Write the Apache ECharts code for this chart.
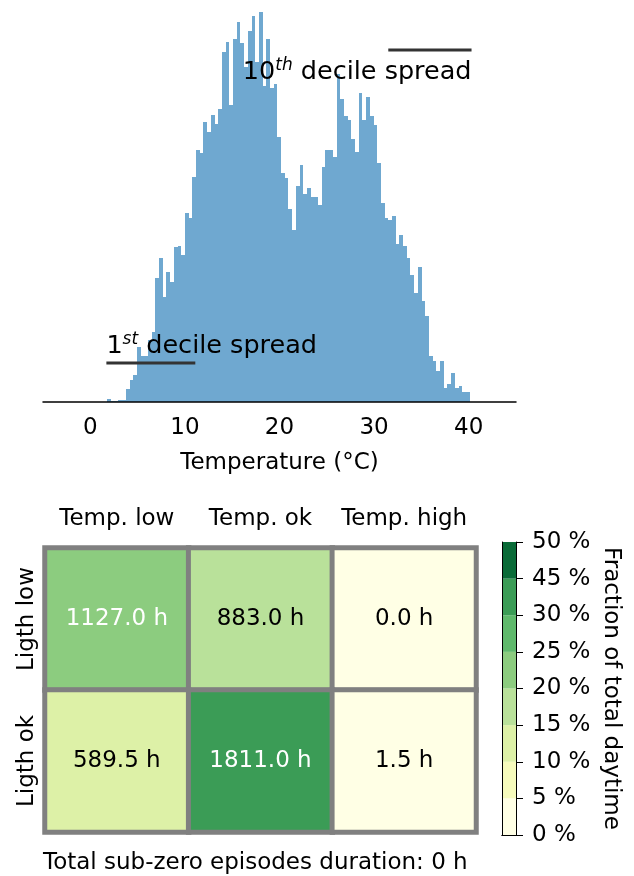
<!DOCTYPE html>
<html>
<head>
<meta charset="utf-8">
<script src="https://cdn.jsdelivr.net/npm/echarts@6/dist/echarts.min.js"></script>
<style>
  html, body { margin: 0; background: #fff; }
  #chart { width: 634px; height: 876px; }
</style>
</head>
<body>
<div id="chart"></div>
<script>
/* Temperature histogram + light/temperature heatmap with a discrete colorbar. */

const FONT = 'DejaVu Sans';
const HIST_COLOR = '#6fa8d0';

// ---------- Histogram data (bin heights, arbitrary units) ----------
const binStart = 1.8;
const binEnd = 40.1;
const binCounts = [
  3, 1, 1, 2, 2, 13, 22, 27, 55, 46,
  46, 62, 70, 124, 144, 105, 130, 120, 155, 156,
  147, 189, 184, 225, 252, 249, 280, 270, 287, 278,
  293, 350, 360, 297, 363, 380, 359, 335, 371, 386,
  340, 390, 316, 363, 314, 318, 265, 229, 224, 193,
  172, 216, 237, 208, 214, 205, 205, 197, 235, 252,
  252, 245, 328, 303, 286, 282, 263, 250, 309, 282,
  305, 286, 277, 239, 199, 184, 182, 186, 158, 167,
  156, 144, 127, 109, 135, 101, 86, 46, 41, 31,
  41, 14, 18, 29, 14, 16, 10, 10,
];
const tempTicks = [0, 10, 20, 30, 40];
// decile spread markers: [from °C, to °C, height]
const decile1 = [1.7, 11.1, 39];
const decile10 = [31.5, 40.3, 352];

// ---------- Heatmap data ----------
const tempClasses = ['Temp. low', 'Temp. ok', 'Temp. high'];
const lightClasses = ['Ligth low', 'Ligth ok'];
const hours = [
  [1127.0, 883.0, 0.0],
  [589.5, 1811.0, 1.5],
];
const totalDaytime = 4745;
const cbBounds = [0, 5, 10, 15, 20, 25, 30, 45, 50];
const cbLabels = ['0 %', '5 %', '10 %', '15 %', '20 %', '25 %', '30 %', '45 %', '50 %'];
const cbColors = ['#ffffe5', '#f6fbbc', '#ddf1a7', '#b9e19a', '#8ccc7f', '#5fb96c', '#3b9c56', '#0a6b38'];
const footer = 'Total sub-zero episodes duration: 0 h';

// ---------- Build series data ----------
const binWidth = (binEnd - binStart) / binCounts.length;
const histData = binCounts.map((c, i) => [binStart + i * binWidth, binStart + (i + 1) * binWidth, c]);

const heatData = [];
hours.forEach((row, r) => row.forEach((h, c) => {
  const frac = h / totalDaytime * 100;
  heatData.push({
    value: [c, r, h, frac],
    label: { color: frac >= 20 ? '#fff' : '#000' },
  });
}));

const pieces = cbColors.map((color, i) => ({ gte: cbBounds[i], lt: cbBounds[i + 1], color }));

const cbSeries = cbColors.map((color) => ({
  type: 'bar', stack: 'cb', xAxisIndex: 2, yAxisIndex: 2,
  data: [1], barWidth: '100%', silent: true,
  itemStyle: { color },
}));

const FS = 23;
const text23 = { fontFamily: FONT, fontSize: FS, color: '#000' };
const rich = {
  a: { fontFamily: FONT, fontSize: 25.5, color: '#000', lineHeight: 30 },
  s: { fontFamily: FONT, fontSize: 17, fontStyle: 'italic', color: '#000', verticalAlign: 'top', lineHeight: 17 },
};

const chart = echarts.init(document.getElementById('chart'), null, { renderer: 'canvas' });
chart.setOption({
  animation: false,
  textStyle: { fontFamily: FONT },
  grid: [
    { left: 43, width: 473, top: 2, height: 400 },
    { left: 45, width: 431, top: 548, height: 284 },
    { left: 502, width: 14, top: 542, height: 293 },
  ],
  xAxis: [
    {
      gridIndex: 0, type: 'value', min: -5, max: 45, z: 10,
      axisLine: { lineStyle: { color: '#000', width: 1.5 } },
      axisTick: { show: false },
      splitLine: { show: false },
      axisLabel: { ...text23, customValues: tempTicks, margin: 15 },
      name: 'Temperature (°C)', nameLocation: 'middle', nameGap: 50,
      nameTextStyle: text23,
    },
    {
      gridIndex: 1, type: 'category', data: tempClasses, position: 'top',
      axisLine: { show: false }, axisTick: { show: false },
      axisLabel: { ...text23, margin: 17, interval: 0 },
    },
    {
      gridIndex: 2, type: 'category', data: ['cb'], z: 10,
      axisLine: { lineStyle: { color: '#000', width: 1 } },
      axisTick: { show: false }, axisLabel: { show: false },
    },
    {
      gridIndex: 2, type: 'category', data: ['cb'], position: 'top', z: 10,
      axisLine: { lineStyle: { color: '#000', width: 1 } },
      axisTick: { show: false }, axisLabel: { show: false },
    },
  ],
  yAxis: [
    { gridIndex: 0, type: 'value', min: 0, max: 400, show: false },
    {
      gridIndex: 1, type: 'category', data: lightClasses, inverse: true,
      axisLine: { show: false }, axisTick: { show: false },
      axisLabel: { ...text23, rotate: 90, margin: 6, interval: 0 },
    },
    {
      gridIndex: 2, type: 'value', min: 0, max: cbBounds.length - 1, interval: 1,
      position: 'right', z: 10,
      axisLine: { show: true, lineStyle: { color: '#000', width: 1 } },
      axisTick: { show: true, inside: false, length: 7, lineStyle: { color: '#000', width: 1 } },
      axisLabel: { ...text23, margin: 16, formatter: (v) => cbLabels[v] },
      splitLine: { show: false },
      name: 'Fraction of total daytime', nameLocation: 'middle', nameGap: 83, nameRotate: -90,
      nameTextStyle: text23,
    },
    {
      gridIndex: 2, type: 'value', min: 0, max: cbBounds.length - 1, position: 'left', z: 10,
      axisLine: { show: true, lineStyle: { color: '#000', width: 1 } },
      axisTick: { show: false }, axisLabel: { show: false }, splitLine: { show: false },
    },
  ],
  visualMap: {
    type: 'piecewise', show: false, seriesIndex: 3, dimension: 3, pieces,
  },
  series: [
    {
      type: 'custom', xAxisIndex: 0, yAxisIndex: 0, data: histData,
      encode: { x: [0, 1], y: 2 }, silent: true,
      renderItem(params, api) {
        const p0 = api.coord([api.value(0), 0]);
        const p1 = api.coord([api.value(1), api.value(2)]);
        // snap to whole pixels so neighbouring bins meet without seams
        const x0 = Math.round(p0[0]);
        const x1 = Math.round(p1[0]);
        return {
          type: 'rect',
          shape: { x: x0, y: p1[1], width: x1 - x0, height: p0[1] - p1[1] },
          style: { fill: HIST_COLOR },
        };
      },
    },
    {
      type: 'line', xAxisIndex: 0, yAxisIndex: 0, silent: true, z: 5,
      data: [[decile1[0], decile1[2]], [decile1[1], decile1[2]]],
      symbol: 'circle', symbolSize: 0.1, showSymbol: true,
      lineStyle: { color: '#333', width: 3 },
      itemStyle: { color: '#333' },
      label: {
        show: true, position: 'top', align: 'left', distance: 2,
        formatter: (p) => (p.dataIndex === 0 ? '{a|1}{s|st}{a| decile spread}' : ''),
        rich,
      },
    },
    {
      type: 'line', xAxisIndex: 0, yAxisIndex: 0, silent: true, z: 5,
      data: [[decile10[0], decile10[2]], [decile10[1], decile10[2]]],
      symbol: 'circle', symbolSize: 0.1, showSymbol: true,
      lineStyle: { color: '#333', width: 3 },
      itemStyle: { color: '#333' },
      label: {
        show: true, position: 'bottom', align: 'right', distance: 7,
        formatter: (p) => (p.dataIndex === 1 ? '{a|10}{s|th}{a| decile spread}' : ''),
        rich,
      },
    },
    {
      type: 'heatmap', xAxisIndex: 1, yAxisIndex: 1, data: heatData, silent: true,
      itemStyle: { borderColor: '#808080', borderWidth: 5 },
      label: {
        show: true, fontFamily: FONT, fontSize: FS,
        formatter: (p) => p.value[2].toFixed(1) + ' h',
      },
    },
    ...cbSeries,
  ],
  graphic: [
    {
      type: 'text', left: 43, top: 852,
      style: { text: footer, font: FS + 'px "DejaVu Sans"', fill: '#000' },
    },
  ],
});
</script>
</body>
</html>
